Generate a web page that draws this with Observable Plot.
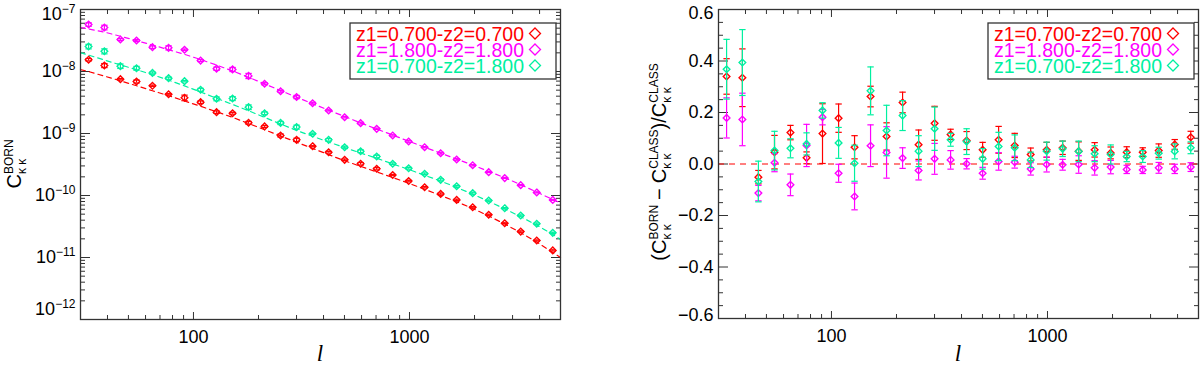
<!DOCTYPE html>
<html><head><meta charset="utf-8">
<script src="https://cdn.jsdelivr.net/npm/d3@7"></script>
<script src="https://cdn.jsdelivr.net/npm/@observablehq/plot@0.6"></script>
<style>
html,body{margin:0;padding:0;background:#fff;}
#wrap{position:relative;width:1200px;height:366px;background:#fff;overflow:hidden;}
#wrap svg{position:absolute;top:0;}
</style></head><body><div id="wrap"></div>
<script>
// ---------- data ----------
const RED = "#ff0000", MAG = "#ff00ff", GRN = "#00f0a0";
const seriesNames = ["z1=0.700-z2=0.700", "z1=1.800-z2=1.800", "z1=0.700-z2=1.800"];
const seriesColors = [RED, MAG, GRN];

const ell = [32.7, 38.7, 45.9, 54.5, 64.6, 76.7, 90.9, 107.9, 127.9, 151.7, 179.9, 213.4, 253.1, 300.2, 356.0,
  422.3, 500.9, 594.0, 705.0, 836.0, 991.0, 1175, 1394, 1653, 1961, 2326, 2759, 3272, 3881, 4603];

// measured C_kk^BORN
const bornA = [1.55e-8, 1.25e-8, 7.52e-9, 6.90e-9, 5.88e-9, 4.30e-9, 3.77e-9, 3.20e-9, 2.21e-9, 2.12e-9, 1.49e-9, 1.30e-9,
  9.30e-10, 7.91e-10, 6.24e-10, 4.99e-10, 3.76e-10, 3.25e-10, 2.70e-10, 2.14e-10, 1.71e-10, 1.36e-10, 1.06e-10, 8.50e-11,
  6.47e-11, 4.89e-11, 3.57e-11, 2.62e-11, 1.88e-11, 1.30e-11];
const bornB = [5.73e-8, 5.13e-8, 3.28e-8, 3.16e-8, 2.47e-8, 2.41e-8, 2.24e-8, 1.50e-8, 1.11e-8, 1.08e-8, 8.50e-9, 6.34e-9,
  4.81e-9, 3.88e-9, 3.08e-9, 2.35e-9, 1.83e-9, 1.47e-9, 1.19e-9, 9.30e-10, 7.43e-10, 6.01e-10, 4.81e-10, 3.81e-10,
  3.08e-10, 2.38e-10, 1.91e-10, 1.47e-10, 1.12e-10, 8.50e-11];
const bornC = [2.53e-8, 2.12e-8, 1.22e-8, 1.13e-8, 9.50e-9, 7.80e-9, 6.98e-9, 5.07e-9, 3.63e-9, 3.67e-9, 2.66e-9, 2.12e-9,
  1.48e-9, 1.27e-9, 9.90e-10, 7.91e-10, 6.01e-10, 5.18e-10, 4.26e-10, 3.25e-10, 2.75e-10, 2.24e-10, 1.79e-10, 1.41e-10,
  1.09e-10, 8.30e-11, 6.24e-11, 4.75e-11, 3.50e-11, 2.50e-11];

// theory (CLASS) curves, dashed
const ellTheory = [30, 32.7, 38.7, 45.9, 54.5, 64.6, 76.7, 90.9, 107.9, 127.9, 151.7, 179.9, 213.4, 253.1, 300.2, 356.0,
  422.3, 500.9, 594.0, 705.0, 836.0, 991.0, 1175, 1394, 1653, 1961, 2326, 2759, 3272, 3881, 4603, 5000];
const theoryA = [1.07e-8, 1.00e-8, 8.41e-9, 7.08e-9, 5.89e-9, 4.90e-9, 4.07e-9, 3.35e-9, 2.75e-9, 2.24e-9, 1.82e-9, 1.45e-9,
  1.15e-9, 9.12e-10, 7.24e-10, 5.75e-10, 4.57e-10, 3.63e-10, 2.95e-10, 2.40e-10, 1.95e-10, 1.58e-10, 1.26e-10, 1.00e-10,
  7.94e-11, 6.17e-11, 4.68e-11, 3.47e-11, 2.51e-11, 1.78e-11, 1.20e-11, 1.00e-11];
const theoryB = [5.13e-8, 4.84e-8, 4.32e-8, 3.70e-8, 3.15e-8, 2.67e-8, 2.25e-8, 1.89e-8, 1.56e-8, 1.27e-8, 1.02e-8, 8.07e-9,
  6.31e-9, 4.92e-9, 3.84e-9, 3.02e-9, 2.38e-9, 1.88e-9, 1.48e-9, 1.18e-9, 9.44e-10, 7.50e-10, 6.01e-10, 4.82e-10,
  3.87e-10, 3.10e-10, 2.45e-10, 1.94e-10, 1.49e-10, 1.14e-10, 8.61e-11, 7.59e-11];
const theoryC = [2.02e-8, 1.84e-8, 1.53e-8, 1.28e-8, 1.07e-8, 8.87e-9, 7.26e-9, 5.85e-9, 4.68e-9, 3.70e-9, 2.94e-9, 2.33e-9,
  1.82e-9, 1.42e-9, 1.12e-9, 9.02e-10, 7.28e-10, 5.92e-10, 4.85e-10, 3.99e-10, 3.24e-10, 2.63e-10, 2.12e-10, 1.71e-10,
  1.35e-10, 1.05e-10, 8.05e-11, 6.08e-11, 4.55e-11, 3.33e-11, 2.36e-11, 1.95e-11];

// relative difference (BORN - CLASS)/CLASS and its error
const ratioA = [0.340, 0.335, -0.051, 0.046, 0.122, 0.024, 0.118, 0.178, 0.065, 0.262, 0.107, 0.239, 0.075, 0.158, 0.115,
  0.091, 0.055, 0.094, 0.072, 0.037, 0.055, 0.063, 0.050, 0.055, 0.043, 0.046, 0.046, 0.052, 0.076, 0.104];
const errA = [0.069, 0.112, 0.026, 0.065, 0.028, 0.023, 0.116, 0.055, 0.045, 0.040, 0.053, 0.040, 0.057, 0.066, 0.020,
  0.035, 0.029, 0.052, 0.047, 0.025, 0.029, 0.026, 0.036, 0.028, 0.023, 0.021, 0.017, 0.026, 0.019, 0.023];
const ratioB = [0.179, 0.173, -0.113, 0.005, -0.081, 0.072, 0.182, -0.036, -0.126, 0.071, 0.045, 0.023, -0.025, 0.020, 0.016,
  0.001, -0.036, 0.010, 0.007, -0.019, -0.002, -0.003, -0.002, -0.015, -0.012, -0.021, -0.023, -0.015, -0.019, -0.012];
const errB = [0.078, 0.102, 0.030, 0.035, 0.042, 0.082, 0.030, 0.035, 0.052, 0.081, 0.100, 0.040, 0.037, 0.060, 0.036,
  0.020, 0.023, 0.034, 0.023, 0.024, 0.029, 0.021, 0.034, 0.028, 0.026, 0.016, 0.014, 0.021, 0.018, 0.017];
const ratioC = [0.368, 0.394, -0.068, 0.052, 0.061, 0.078, 0.208, 0.082, 0.003, 0.284, 0.130, 0.188, 0.050, 0.137, 0.094,
  0.087, 0.020, 0.068, 0.063, 0.016, 0.050, 0.059, 0.049, 0.040, 0.037, 0.029, 0.029, 0.042, 0.049, 0.063];
const errC = [0.116, 0.128, 0.079, 0.075, 0.037, 0.043, 0.030, 0.060, 0.070, 0.093, 0.098, 0.058, 0.060, 0.084, 0.025,
  0.050, 0.040, 0.055, 0.050, 0.030, 0.035, 0.030, 0.040, 0.031, 0.037, 0.020, 0.023, 0.023, 0.029, 0.023];

// axes
const xMajor = [100, 1000];
const xTickLabels = ["100", "1000"];
const xMinor = [40, 50, 60, 70, 80, 90, 200, 300, 400, 500, 600, 700, 800, 900, 2000, 3000, 4000];
const yMajorL = [1e-12, 1e-11, 1e-10, 1e-9, 1e-8, 1e-7];
const yTickLabelsL = ["10^−12", "10^−11", "10^−10", "10^−9", "10^−8", "10^−7"];
const yMinorL = [-12, -11, -10, -9, -8].flatMap(e => [2, 3, 4, 5, 6, 7, 8, 9].map(m => m * Math.pow(10, e)));
const yMajorR = [-0.6, -0.4, -0.2, 0, 0.2, 0.4, 0.6];
const yTickLabelsR = ["−0.6", "−0.4", "−0.2", "0.0", "0.2", "0.4", "0.6"];
const yMinorR = [-0.55, -0.5, -0.45, -0.35, -0.3, -0.25, -0.15, -0.1, -0.05, 0.05, 0.1, 0.15, 0.25, 0.3, 0.35, 0.45, 0.5, 0.55];
const zeroLine = [0];

// ---------- build ----------
const series = [
  {born: bornA, theory: theoryA, ratio: ratioA, err: errA},
  {born: bornB, theory: theoryB, ratio: ratioB, err: errB},
  {born: bornC, theory: theoryC, ratio: ratioC, err: errC}
].map((s, k) => ({...s, name: seriesNames[k], color: seriesColors[k],
  rows: ell.map((l, i) => ({l, born: s.born[i], th: s.theory[i + 1], ratio: s.ratio[i], err: s.err[i]})),
  thRows: ellTheory.map((l, j) => ({l, v: s.theory[j]}))
}));

const capSymbol = {draw(ctx, size) { const w = Math.sqrt(size / Math.PI); ctx.moveTo(-w, 0); ctx.lineTo(w, 0); }};
const FONT = "'Liberation Sans', Arial, Helvetica, sans-serif";
const AX = "#333";

function axes(yMajor, yMinor, yFmt) {
  const none = () => "";
  return [
    Plot.axisX({ticks: xMajor, anchor: "bottom", tickSize: -7, tickPadding: 18, stroke: AX,
      tickFormat: d => xTickLabels[xMajor.indexOf(d)], label: null}),
    Plot.axisX({ticks: xMinor, anchor: "bottom", tickSize: -4, tickFormat: none, stroke: AX, label: null}),
    Plot.axisX({ticks: xMajor, anchor: "top", tickSize: -7, tickFormat: none, stroke: AX, label: null}),
    Plot.axisX({ticks: xMinor, anchor: "top", tickSize: -4, tickFormat: none, stroke: AX, label: null}),
    Plot.axisY({ticks: yMajor, anchor: "left", tickSize: -10, tickPadding: 15, tickFormat: yFmt, stroke: AX, label: null}),
    Plot.axisY({ticks: yMinor, anchor: "left", tickSize: -5, tickFormat: none, stroke: AX, label: null}),
    Plot.axisY({ticks: yMajor, anchor: "right", tickSize: -10, tickFormat: none, stroke: AX, label: null}),
    Plot.axisY({ticks: yMinor, anchor: "right", tickSize: -5, tickFormat: none, stroke: AX, label: null})
  ];
}

function errMarks(rows, color, y, lo, hi) {
  return [
    Plot.ruleX(rows, {x: "l", y1: lo, y2: hi, stroke: color, strokeWidth: 1.2}),
    Plot.dot(rows, {x: "l", y: lo, symbol: capSymbol, r: 3.2, stroke: color, fill: "none", strokeWidth: 1.2}),
    Plot.dot(rows, {x: "l", y: hi, symbol: capSymbol, r: 3.2, stroke: color, fill: "none", strokeWidth: 1.2}),
    Plot.dot(rows, {x: "l", y, symbol: "diamond2", r: 3, stroke: color, fill: "none", strokeWidth: 1.4})
  ];
}

const style = {fontFamily: FONT, fontSize: "18px", color: "#000", background: "transparent", overflow: "visible"};

const leftSvg = Plot.plot({
  width: 600, height: 366, marginLeft: 80, marginRight: 40, marginTop: 9, marginBottom: 47,
  x: {type: "log", domain: [30, 5000]},
  y: {type: "log", domain: [1e-12, 1e-7]},
  style,
  marks: [
    ...axes(yMajorL, yMinorL, d => yTickLabelsL[yMajorL.indexOf(d)]),
    ...series.flatMap(s => [
      Plot.line(s.thRows, {x: "l", y: "v", stroke: s.color, strokeWidth: 1.2, strokeDasharray: "5,4"})
    ]),
    ...series.flatMap(s => errMarks(s.rows, s.color, "born",
      d => d.born - d.err * d.th, d => d.born + d.err * d.th)),
    Plot.frame({stroke: AX, strokeWidth: 1.3})
  ]
});

const rightSvg = Plot.plot({
  width: 600, height: 366, marginLeft: 118, marginRight: 2, marginTop: 9, marginBottom: 48,
  x: {type: "log", domain: [30, 5000]},
  y: {domain: [-0.6, 0.6]},
  style,
  marks: [
    ...axes(yMajorR, yMinorR, d => yTickLabelsR[yMajorR.indexOf(d)]),
    Plot.ruleY(zeroLine, {stroke: RED, strokeWidth: 1.2, strokeDasharray: "6,5"}),
    ...series.flatMap(s => errMarks(s.rows, s.color, "ratio",
      d => d.ratio - d.err, d => d.ratio + d.err)),
    Plot.frame({stroke: AX, strokeWidth: 1.3})
  ]
});

const wrap = document.getElementById("wrap");
leftSvg.style.left = "0px";
rightSvg.style.left = "600px";
wrap.appendChild(leftSvg);
wrap.appendChild(rightSvg);

// superscript exponents on left y tick labels
d3.select(leftSvg).selectAll('g[aria-label="y-axis tick label"] text').each(function () {
  const s = this.textContent;
  if (!s.includes("^")) return;
  const [base, exp] = s.split("^");
  this.textContent = base;
  d3.select(this).append("tspan").attr("dy", -7).attr("font-size", "12px").text(exp);
  if (exp === "−12") this.setAttribute("transform", (this.getAttribute("transform") || "") + " translate(0,-10)");
  if (exp === "−7") this.setAttribute("transform", (this.getAttribute("transform") || "") + " translate(0,5)");
});
d3.select(rightSvg).selectAll('g[aria-label="y-axis tick label"] text').each(function () {
  const s = this.textContent;
  if (s === "0.6") this.setAttribute("transform", (this.getAttribute("transform") || "") + " translate(0,4)");
  if (s === "−0.6") this.setAttribute("transform", (this.getAttribute("transform") || "") + " translate(0,-3)");
});

// rich rotated axis labels with stacked super/subscripts
function richLabel(svg, parts, x, y) {
  const g = d3.select(svg).append("g").attr("transform", `translate(${x},${y}) rotate(-90)`)
    .attr("font-family", FONT).attr("fill", "#000").attr("text-anchor", "start");
  let cx = 0;
  for (const p of parts) {
    if (p.gap) { cx += p.gap; continue; }
    if (p.text != null) {
      const t = g.append("text").attr("x", cx).attr("y", 0).attr("font-size", 20).text(p.text);
      cx += t.node().getComputedTextLength();
    } else {
      const a = g.append("text").attr("x", cx).attr("y", -8).attr("font-size", 12).text(p.sup);
      const b = g.append("text").attr("x", cx).attr("y", 4.5).attr("font-size", 12).text(p.sub);
      cx += Math.max(a.node().getComputedTextLength(), b.node().getComputedTextLength());
    }
  }
  g.selectAll("text").attr("x", function () { return +this.getAttribute("x") - cx / 2; });
}
richLabel(leftSvg, [{text: "C"}, {sup: "BORN", sub: "κ κ"}], 21, 164);
richLabel(rightSvg, [{text: "(C"}, {sup: "BORN", sub: "κ κ"}, {gap: 5}, {text: "−"}, {gap: 5}, {text: "C"},
  {sup: "CLASS", sub: "κ κ"}, {text: ")/C"}, {sup: "CLASS", sub: "κ κ"}], 66, 162);

// x labels
function xLabel(svg, x) {
  d3.select(svg).append("text").attr("x", x).attr("y", 361).attr("text-anchor", "middle")
    .attr("font-family", "'Liberation Serif', 'DejaVu Serif', serif").attr("font-style", "italic")
    .attr("font-size", 23).attr("fill", "#000").text("l");
}
xLabel(leftSvg, 320);
xLabel(rightSvg, 358);

// legends
function legend(svg, bx) {
  const g = d3.select(svg).append("g").attr("font-family", FONT).attr("text-anchor", "start");
  g.append("rect").attr("x", bx).attr("y", 23).attr("width", 206).attr("height", 56)
    .attr("fill", "#fff").attr("stroke", AX).attr("stroke-width", 1.3);
  series.forEach((s, k) => {
    g.append("text").attr("x", bx + 6).attr("y", 40.7 + 16 * k).attr("font-size", 19.5)
      .attr("fill", s.color).text(s.name);
    const cx = bx + 185, cy = 33.5 + 16 * k, r = 5.5;
    g.append("path").attr("d", `M${cx},${cy - r}L${cx + r},${cy}L${cx},${cy + r}L${cx - r},${cy}Z`)
      .attr("fill", "none").attr("stroke", s.color).attr("stroke-width", 1.3);
  });
}
legend(leftSvg, 350);
legend(rightSvg, 388);
</script></body></html>
